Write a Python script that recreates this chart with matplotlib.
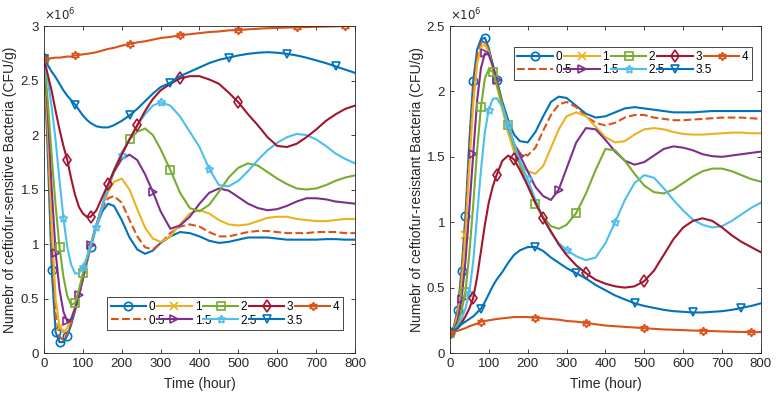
import numpy as np
import matplotlib.pyplot as plt
from matplotlib.ticker import FuncFormatter

plt.rcParams['font.family'] = ['Liberation Sans', 'DejaVu Sans']

# shared time grid (hours)
t = [0, 10, 20, 30, 40, 50, 60, 70, 80, 90, 100, 110, 120, 135, 150, 165, 180,
     200, 220, 240, 260, 280, 300, 325, 350, 375, 400, 425, 450, 475, 500, 525,
     550, 575, 600, 625, 650, 675, 700, 725, 750, 775, 800]

labels = ['0', '0.5', '1', '1.5', '2', '2.5', '3', '3.5', '4']

# sensitive bacteria (x1e6 CFU/g)
sens_0 = [2.70, 1.80, 0.76, 0.19, 0.10, 0.10, 0.16, 0.26, 0.39, 0.53, 0.68, 0.83, 0.97,
          1.16, 1.30, 1.37, 1.35, 1.22, 1.06, 0.95, 0.91, 0.94, 1.01, 1.07, 1.11, 1.10,
          1.07, 1.03, 1.01, 1.02, 1.04, 1.06, 1.06, 1.06, 1.05, 1.04, 1.04, 1.04, 1.04,
          1.045, 1.045, 1.04, 1.04]
sens_05 = [2.70, 1.95, 0.95, 0.35, 0.15, 0.12, 0.18, 0.28, 0.40, 0.53, 0.68, 0.83, 0.98,
           1.17, 1.33, 1.42, 1.44, 1.38, 1.22, 1.07, 0.97, 0.95, 1.01, 1.10, 1.16, 1.18,
           1.16, 1.11, 1.07, 1.07, 1.09, 1.11, 1.12, 1.12, 1.11, 1.10, 1.10, 1.10, 1.11,
           1.11, 1.11, 1.10, 1.10]
sens_1 = [2.70, 2.05, 1.15, 0.50, 0.24, 0.19, 0.23, 0.32, 0.42, 0.54, 0.68, 0.83, 0.98,
          1.17, 1.35, 1.48, 1.57, 1.60, 1.50, 1.32, 1.15, 1.05, 1.02, 1.07, 1.18, 1.28,
          1.31, 1.28, 1.22, 1.18, 1.17, 1.18, 1.21, 1.24, 1.25, 1.25, 1.23, 1.22, 1.21,
          1.21, 1.22, 1.23, 1.23]
sens_15 = [2.70, 2.20, 1.50, 0.92, 0.58, 0.38, 0.29, 0.31, 0.41, 0.53, 0.68, 0.84, 0.99,
           1.18, 1.35, 1.52, 1.66, 1.78, 1.82, 1.77, 1.64, 1.48, 1.30, 1.14, 1.17, 1.25,
           1.37, 1.47, 1.51, 1.49, 1.43, 1.37, 1.33, 1.31, 1.32, 1.35, 1.39, 1.42, 1.42,
           1.41, 1.39, 1.38, 1.37]
sens_2 = [2.70, 2.30, 1.80, 1.35, 0.97, 0.70, 0.52, 0.44, 0.46, 0.58, 0.73, 0.87, 1.00,
          1.17, 1.35, 1.53, 1.68, 1.84, 1.96, 2.03, 2.06, 2.00, 1.87, 1.68, 1.47, 1.33,
          1.30, 1.36, 1.48, 1.61, 1.70, 1.74, 1.72, 1.66, 1.60, 1.55, 1.51, 1.50, 1.51,
          1.54, 1.58, 1.61, 1.63]
sens_25 = [2.70, 2.50, 2.25, 1.95, 1.58, 1.24, 0.97, 0.81, 0.73, 0.73, 0.79, 0.87, 0.98,
           1.16, 1.34, 1.52, 1.67, 1.82, 1.96, 2.09, 2.19, 2.27, 2.30, 2.27, 2.17, 2.03,
           1.89, 1.69, 1.54, 1.53, 1.58, 1.67, 1.77, 1.86, 1.93, 1.98, 2.01, 2.00, 1.96,
           1.90, 1.83, 1.78, 1.74]
sens_3 = [2.70, 2.55, 2.40, 2.22, 2.05, 1.90, 1.77, 1.60, 1.45, 1.34, 1.28, 1.25, 1.25,
          1.31, 1.43, 1.55, 1.67, 1.82, 1.96, 2.09, 2.22, 2.33, 2.41, 2.47, 2.52, 2.54,
          2.54, 2.51, 2.47, 2.39, 2.30, 2.19, 2.09, 1.98, 1.90, 1.89, 1.92, 1.98, 2.05,
          2.13, 2.19, 2.24, 2.27]
sens_35 = [2.70, 2.64, 2.58, 2.53, 2.47, 2.41, 2.36, 2.32, 2.28, 2.23, 2.18, 2.14, 2.11,
           2.08, 2.07, 2.07, 2.09, 2.13, 2.18, 2.24, 2.31, 2.38, 2.44, 2.48, 2.54, 2.58,
           2.62, 2.66, 2.69, 2.71, 2.73, 2.745, 2.755, 2.76, 2.755, 2.745, 2.73, 2.71,
           2.685, 2.66, 2.63, 2.60, 2.57]
sens_4 = [2.70, 2.70, 2.705, 2.71, 2.71, 2.715, 2.72, 2.72, 2.73, 2.735, 2.74, 2.745, 2.75,
          2.76, 2.775, 2.79, 2.80, 2.82, 2.835, 2.85, 2.86, 2.875, 2.89, 2.90, 2.915,
          2.925, 2.935, 2.945, 2.95, 2.96, 2.963, 2.97, 2.975, 2.98, 2.983, 2.986, 2.988,
          2.99, 2.993, 2.995, 2.997, 3.0, 3.0]

# resistant bacteria (x1e6 CFU/g)
res_0 = [0.15, 0.20, 0.33, 0.63, 1.05, 1.62, 2.08, 2.32, 2.40, 2.41, 2.33, 2.21, 2.09,
         1.92, 1.78, 1.67, 1.62, 1.61, 1.69, 1.81, 1.92, 1.96, 1.95, 1.89, 1.83, 1.80,
         1.81, 1.84, 1.87, 1.88, 1.87, 1.86, 1.85, 1.84, 1.84, 1.84, 1.845, 1.85, 1.85,
         1.85, 1.85, 1.85, 1.85]
res_05 = [0.15, 0.19, 0.31, 0.59, 1.00, 1.54, 2.00, 2.27, 2.37, 2.38, 2.31, 2.20, 2.08,
          1.89, 1.72, 1.60, 1.53, 1.51, 1.57, 1.70, 1.82, 1.90, 1.92, 1.88, 1.81, 1.76,
          1.74, 1.76, 1.80, 1.82, 1.82, 1.80, 1.79, 1.78, 1.78, 1.785, 1.79, 1.795, 1.80,
          1.80, 1.80, 1.795, 1.79]
res_1 = [0.15, 0.18, 0.29, 0.53, 0.90, 1.42, 1.90, 2.21, 2.34, 2.36, 2.30, 2.18, 2.05,
         1.86, 1.68, 1.54, 1.45, 1.39, 1.37, 1.43, 1.57, 1.71, 1.81, 1.84, 1.81, 1.73,
         1.65, 1.61, 1.62, 1.67, 1.71, 1.72, 1.71, 1.69, 1.675, 1.67, 1.67, 1.675, 1.68,
         1.685, 1.685, 1.68, 1.68]
res_15 = [0.15, 0.17, 0.25, 0.41, 0.70, 1.10, 1.52, 1.93, 2.18, 2.29, 2.28, 2.20, 2.09,
          1.90, 1.73, 1.60, 1.51, 1.39, 1.27, 1.20, 1.17, 1.25, 1.41, 1.61, 1.72, 1.71,
          1.63, 1.54, 1.47, 1.44, 1.46, 1.51, 1.56, 1.58, 1.57, 1.55, 1.52, 1.505, 1.50,
          1.51, 1.52, 1.53, 1.54]
res_2 = [0.15, 0.17, 0.22, 0.32, 0.47, 0.76, 1.13, 1.55, 1.88, 2.10, 2.17, 2.15, 2.06,
         1.90, 1.74, 1.58, 1.44, 1.28, 1.14, 1.04, 0.97, 0.95, 0.98, 1.07, 1.22, 1.40,
         1.56, 1.55, 1.47, 1.37, 1.28, 1.23, 1.22, 1.25, 1.30, 1.35, 1.39, 1.41, 1.41,
         1.39, 1.36, 1.33, 1.31]
res_25 = [0.15, 0.16, 0.20, 0.26, 0.34, 0.46, 0.70, 1.05, 1.40, 1.69, 1.86, 1.94, 1.95,
          1.88, 1.74, 1.60, 1.47, 1.33, 1.17, 1.03, 0.92, 0.84, 0.79, 0.74, 0.71, 0.73,
          0.84, 1.00, 1.17, 1.30, 1.36, 1.34, 1.26, 1.17, 1.09, 1.02, 0.98, 0.96, 0.97,
          1.01, 1.06, 1.11, 1.15]
res_3 = [0.15, 0.17, 0.19, 0.23, 0.28, 0.34, 0.42, 0.58, 0.78, 0.98, 1.15, 1.27, 1.36,
         1.47, 1.51, 1.48, 1.40, 1.28, 1.15, 1.03, 0.93, 0.83, 0.75, 0.67, 0.61, 0.56,
         0.53, 0.51, 0.50, 0.51, 0.55, 0.63, 0.75, 0.87, 0.96, 1.01, 1.03, 1.01, 0.96,
         0.90, 0.85, 0.81, 0.77]
res_35 = [0.15, 0.17, 0.19, 0.22, 0.24, 0.26, 0.28, 0.31, 0.34, 0.39, 0.45, 0.51, 0.56,
          0.62, 0.69, 0.75, 0.785, 0.81, 0.81, 0.78, 0.73, 0.69, 0.65, 0.61, 0.57, 0.52,
          0.48, 0.44, 0.41, 0.38, 0.36, 0.345, 0.33, 0.32, 0.315, 0.31, 0.31, 0.315, 0.32,
          0.33, 0.345, 0.36, 0.38]
res_4 = [0.15, 0.16, 0.17, 0.18, 0.19, 0.205, 0.215, 0.225, 0.24, 0.245, 0.25, 0.255, 0.26,
         0.265, 0.27, 0.275, 0.275, 0.275, 0.27, 0.265, 0.26, 0.255, 0.245, 0.24, 0.23,
         0.22, 0.21, 0.205, 0.20, 0.195, 0.19, 0.185, 0.18, 0.178, 0.175, 0.172, 0.17,
         0.168, 0.165, 0.163, 0.161, 0.16, 0.16]

sens = [sens_0, sens_05, sens_1, sens_15, sens_2, sens_25, sens_3, sens_35, sens_4]
res = [res_0, res_05, res_1, res_15, res_2, res_25, res_3, res_35, res_4]

# matlab default colours / markers
colors = ['#0072BD', '#D95319', '#EDB120', '#7E2F8E', '#77AC30', '#4DBEEE',
          '#A2142F', '#0072BD', '#D95319']
markers = ['o', None, 'x', '>', 's', (5, 1, 0), 'd', 'v', (6, 1, 0)]
styles = ['-', '--', '-', '-', '-', '-', '-', '-', '-']

# marker positions (grid indices)
mk_sens = [[0, 2, 3, 4, 6, 12], None, [0, 4], [0, 3, 6, 9, 12, 21],
           [0, 4, 8, 10, 18, 23], [0, 5, 10, 13, 17, 22, 27],
           [0, 6, 12, 15, 19, 24, 30], [0, 8, 18, 23, 29, 35, 40],
           [0, 8, 18, 24, 30, 36, 41]]
mk_res = [[0, 2, 3, 4, 6, 9, 12], None, [0, 4], [0, 3, 6, 9, 12, 16, 21],
          [0, 4, 8, 11, 14, 18, 23], [0, 5, 10, 14, 17, 22, 27],
          [0, 6, 12, 15, 19, 24, 30], [0, 8, 18, 23, 29, 35, 40],
          [0, 8, 18, 24, 30, 36, 41]]


def fmt(v, pos):
    return '%g' % v


fig = plt.figure(figsize=(7.77, 3.98), dpi=100)
ax1 = fig.add_axes([0.0566, 0.113, 0.4003, 0.8216])
ax2 = fig.add_axes([0.579, 0.113, 0.4003, 0.8216])

panels = [(ax1, sens, mk_sens, 3.0, 'Numebr of ceftiofur-sensitive Bacteria (CFU/g)',
           (0.203, 0.070, 0.758, 0.10), -0.088),
          (ax2, res, mk_res, 2.5, 'Numebr of ceftiofur-resistant Bacteria (CFU/g)',
           (0.206, 0.835, 0.765, 0.10), -0.082)]

for ax, data, mk, ymax, ylab, lbox, ylx in panels:
    for i in range(len(labels)):
        ax.plot(t, data[i], color=colors[i], ls=styles[i], lw=1.5,
                marker=markers[i], markevery=mk[i], ms=6, mew=1.2,
                mfc='none', label=labels[i])
    ax.set_xlim(0, 800)
    ax.set_ylim(0, ymax)
    ax.set_xticks(np.arange(0, 801, 100))
    ax.set_yticks(np.arange(0, ymax + 0.01, 0.5))
    ax.yaxis.set_major_formatter(FuncFormatter(fmt))
    ax.tick_params(direction='in', top=True, right=True, labelsize=9.5,
                   colors='#262626', length=3, width=0.6)
    for s in ax.spines.values():
        s.set_color('#262626')
        s.set_linewidth(0.6)
    ax.set_xlabel('Time (hour)', fontsize=10, color='#262626', labelpad=5)
    ax.set_ylabel(ylab, fontsize=10, color='#262626')
    ax.yaxis.set_label_coords(ylx, 0.5)
    ax.text(0.0, 1.008, r'$\times10^{6}$', transform=ax.transAxes, fontsize=8.5,
            color='#262626', ha='left', va='bottom')
    leg = ax.legend(ncol=5, loc='lower left', bbox_to_anchor=lbox, mode='expand',
                    fontsize=8.5, handlelength=3.0, handletextpad=0.2,
                    columnspacing=0.6, labelspacing=0.15, borderpad=0.3,
                    fancybox=False, framealpha=1, edgecolor='#262626',
                    borderaxespad=0)
    leg.get_frame().set_linewidth(0.6)

fig.savefig('out.png', dpi=100)
